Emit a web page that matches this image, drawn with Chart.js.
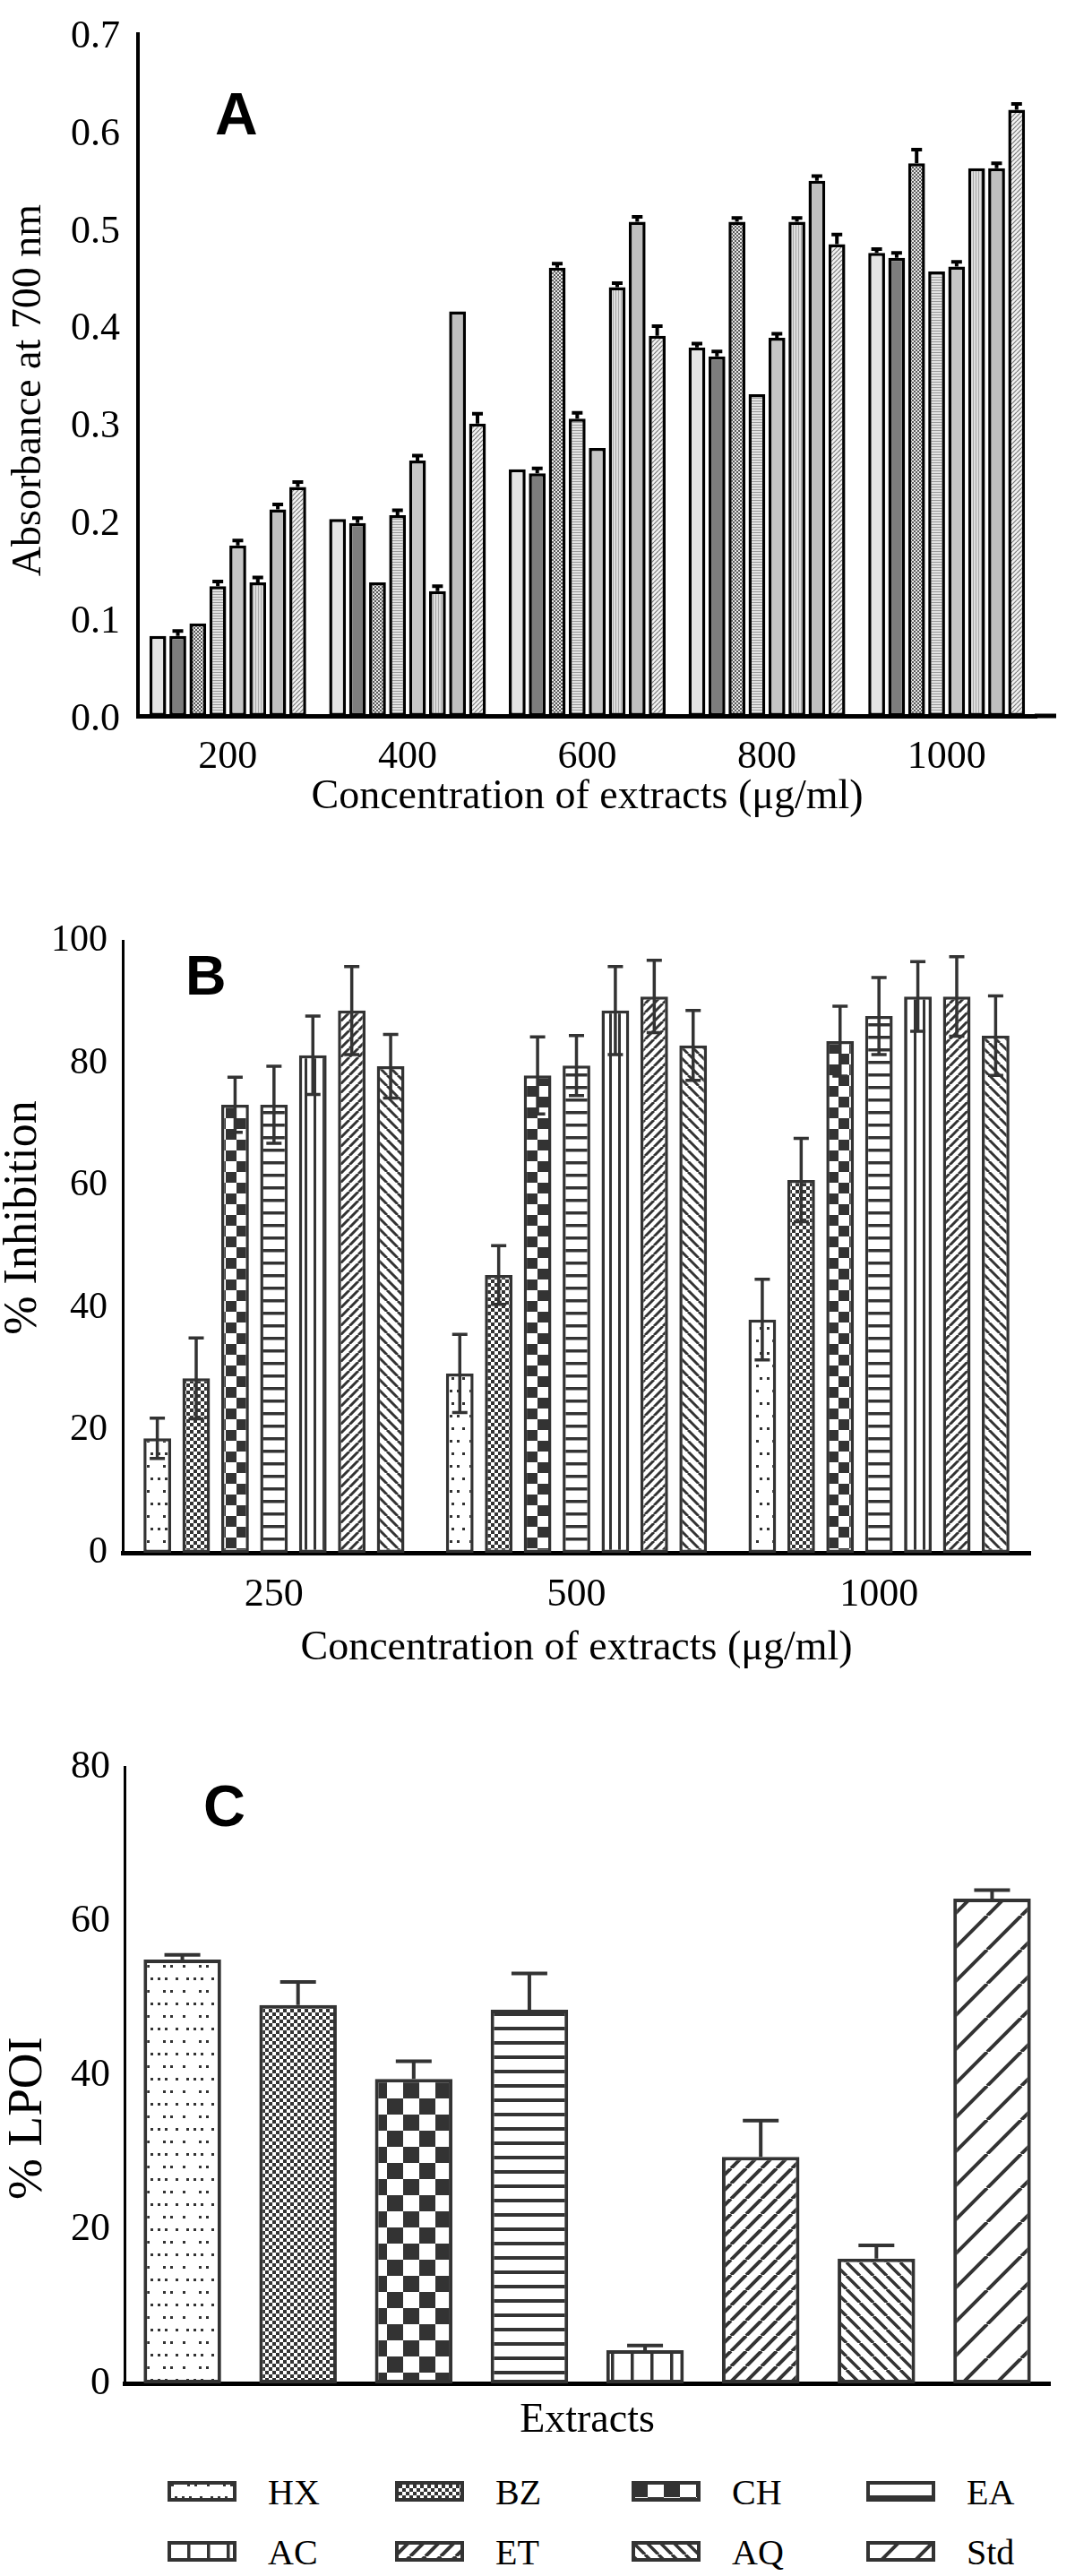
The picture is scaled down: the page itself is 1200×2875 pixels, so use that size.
<!DOCTYPE html>
<html>
<head>
<meta charset="utf-8">
<script src="https://cdn.jsdelivr.net/npm/chart.js@4.4.0/dist/chart.umd.min.js"></script>
<style>
  body { margin: 0; background: #fff; }
  #page { position: relative; width: 1200px; height: 2875px; }
  #page canvas { position: absolute; left: 0; }
  .lg-box { position: absolute; }
  .lg-text { position: absolute; font-family: "Liberation Serif"; font-size: 40px; line-height: 40px; color: #000; }
</style>
</head>
<body>
<div id="page">
  <canvas id="chartA" width="1200" height="950" style="top:0px"></canvas>
  <canvas id="chartB" width="1200" height="940" style="top:960px"></canvas>
  <canvas id="chartC" width="1200" height="830" style="top:1910px"></canvas>
  <div id="legend"></div>
</div>
<script>
// ---------- data ----------
const extracts = ['HX', 'BZ', 'CH', 'EA', 'AC', 'ET', 'AQ', 'Std'];

// A - absorbance at 700 nm
const concA = ['200', '400', '600', '800', '1000'];
const ticksA = [0, 0.1, 0.2, 0.3, 0.4, 0.5, 0.6, 0.7];
const absHX  = [0.082, 0.202, 0.253, 0.378, 0.475];
const absBZ  = [0.082, 0.198, 0.249, 0.369, 0.470];
const absCH  = [0.095, 0.137, 0.460, 0.507, 0.567];
const absEA  = [0.133, 0.206, 0.305, 0.330, 0.456];
const absAC  = [0.175, 0.262, 0.275, 0.388, 0.461];
const absET  = [0.137, 0.128, 0.440, 0.507, 0.562];
const absAQ  = [0.212, 0.415, 0.507, 0.549, 0.562];
const absStd = [0.235, 0.300, 0.390, 0.484, 0.622];
const errAHX  = [0, 0, 0, 0.004, 0.004];
const errABZ  = [0.005, 0.005, 0.005, 0.005, 0.005];
const errACH  = [0, 0, 0.004, 0.004, 0.014];
const errAEA  = [0.005, 0.005, 0.006, 0, 0];
const errAAC  = [0.005, 0.005, 0, 0.004, 0.005];
const errAET  = [0.005, 0.005, 0.004, 0.004, 0];
const errAAQ  = [0.005, 0, 0.005, 0.005, 0.005];
const errAStd = [0.005, 0.010, 0.010, 0.010, 0.006];

// B - % inhibition
const concB = ['250', '500', '1000'];
const ticksB = [0, 20, 40, 60, 80, 100];
const inhHX = [18.7, 29.3, 38.1];
const inhBZ = [28.5, 45.4, 60.9];
const inhCH = [73.2, 78.0, 83.6];
const inhEA = [73.2, 79.6, 87.7];
const inhAC = [81.3, 88.6, 90.9];
const inhET = [88.6, 90.9, 90.9];
const inhAQ = [79.5, 82.9, 84.5];
const errBHX = [3.3, 6.4, 6.6];
const errBBZ = [6.6, 4.8, 6.8];
const errBCH = [4.5, 6.3, 5.7];
const errBEA = [6.3, 4.9, 6.3];
const errBAC = [6.4, 7.2, 5.7];
const errBET = [7.2, 5.9, 6.5];
const errBAQ = [5.2, 5.7, 6.5];

// C - % LPOI
const ticksC = [0, 20, 40, 60, 80];
const lpoi    = [55.0, 49.1, 39.5, 48.5, 4.3, 29.4, 16.2, 62.9];
const lpoiErr = [0.6, 3.0, 2.3, 4.7, 0.6, 4.7, 1.7, 1.1];

// ---------- fill patterns ----------
function tile(w, h, bg, draw) {
  const c = document.createElement('canvas');
  c.width = w; c.height = h;
  const g = c.getContext('2d');
  g.fillStyle = bg; g.fillRect(0, 0, w, h);
  draw(g, w, h);
  return g.createPattern(c, 'repeat');
}
function checker(cell, col, bg) {
  return tile(cell * 2, cell * 2, bg, g => {
    g.fillStyle = col;
    g.fillRect(0, 0, cell, cell);
    g.fillRect(cell, cell, cell, cell);
  });
}
function hlines(period, lw, col, bg) {
  return tile(4, period, bg, g => { g.fillStyle = col; g.fillRect(0, 0, 4, lw); });
}
function vlines(period, lw, col, bg) {
  return tile(period, 4, bg, g => { g.fillStyle = col; g.fillRect(0, 0, lw, 4); });
}
function diag(s, lw, col, bg, dir) {
  return tile(s, s, bg, g => {
    g.strokeStyle = col; g.lineWidth = lw;
    g.beginPath();
    for (let k = -s; k <= s; k += s) {
      if (dir > 0) { g.moveTo(k, s); g.lineTo(k + s, 0); }
      else { g.moveTo(k, 0); g.lineTo(k + s, s); }
    }
    g.stroke();
  });
}
function dots(col, bg) {
  return tile(40, 28, bg, g => {
    g.fillStyle = col;
    [[4, 3], [22, 3], [30, 3], [8, 17], [16, 17], [24, 17], [36, 17]].forEach(p => g.fillRect(p[0], p[1], 3, 3));
  });
}

const ink = '#333';
const fillA = [
  '#e4e4e4',
  '#7d7d7d',
  checker(2, '#5a5a5a', '#e8e8e8'),
  hlines(3, 1, '#9a9a9a', '#e2e2e2'),
  '#c6c6c6',
  vlines(3, 1, '#a8a8a8', '#dedede'),
  '#bfbfbf',
  diag(5, 1.2, '#777', '#f2f2f2', 1)
];
const fillB = [
  dots(ink, '#fff'),
  checker(4, ink, '#fff'),
  checker(12, ink, '#fff'),
  hlines(14, 3.5, ink, '#fff'),
  vlines(10, 3, ink, '#fff'),
  diag(10, 3, ink, '#fff', 1),
  diag(12, 3, ink, '#fff', -1)
];
const fillC = [
  dots(ink, '#fff'),
  checker(4, ink, '#fff'),
  checker(18, ink, '#fff'),
  hlines(16, 4, ink, '#fff'),
  vlines(22, 3.5, ink, '#fff'),
  diag(17, 4, ink, '#fff', 1),
  diag(15, 3.5, ink, '#fff', -1),
  diag(38, 4, ink, '#fff', 1)
];

// ---------- plugins ----------
const errorBars = {
  id: 'errorBars',
  afterDatasetsDraw(chart, args, o) {
    const { ctx } = chart;
    const y = chart.scales.y;
    ctx.save();
    ctx.strokeStyle = o.color;
    ctx.lineWidth = o.width;
    chart.data.datasets.forEach((ds, i) => {
      if (!ds.errors) return;
      chart.getDatasetMeta(i).data.forEach((bar, j) => {
        const e = ds.errors[j];
        if (!e) return;
        const v = ds.data[j];
        const top = y.getPixelForValue(v + e);
        const bot = y.getPixelForValue(o.both ? v - e : v);
        const h = o.cap / 2;
        ctx.beginPath();
        ctx.moveTo(bar.x, bot); ctx.lineTo(bar.x, top);
        ctx.moveTo(bar.x - h, top); ctx.lineTo(bar.x + h, top);
        if (o.both) { ctx.moveTo(bar.x - h, bot); ctx.lineTo(bar.x + h, bot); }
        ctx.stroke();
      });
    });
    ctx.restore();
  }
};

const panelTag = {
  id: 'panelTag',
  afterDraw(chart, args, o) {
    const { ctx, chartArea: a } = chart;
    ctx.save();
    ctx.fillStyle = '#000';
    ctx.font = 'bold ' + o.size + 'px "Liberation Sans"';
    ctx.textBaseline = 'alphabetic';
    ctx.fillText(o.text, a.left + o.dx, a.top + o.dy);
    if (o.extend) {
      ctx.strokeStyle = '#000';
      ctx.lineWidth = o.lineWidth;
      ctx.beginPath();
      ctx.moveTo(a.right - 2, a.bottom);
      ctx.lineTo(a.right + o.extend, a.bottom);
      ctx.stroke();
    }
    ctx.restore();
  }
};

Chart.defaults.font.family = 'Liberation Serif';
Chart.defaults.color = '#000';

function serif(size, lineHeight) {
  return { family: 'Liberation Serif', size: size, lineHeight: lineHeight || 1.2 };
}

// ---------- chart A ----------
new Chart(document.getElementById('chartA'), {
  type: 'bar',
  data: {
    labels: concA,
    datasets: [absHX, absBZ, absCH, absEA, absAC, absET, absAQ, absStd].map((d, i) => ({
      label: extracts[i],
      data: d,
      errors: [errAHX, errABZ, errACH, errAEA, errAAC, errAET, errAAQ, errAStd][i],
      backgroundColor: fillA[i],
      borderColor: '#000',
      borderWidth: 3.5,
      borderSkipped: false
    }))
  },
  options: {
    responsive: false,
    animation: false,
    devicePixelRatio: 1,
    layout: { padding: { top: 19, right: 43, left: 0, bottom: 0 } },
    datasets: { bar: { categoryPercentage: 0.89, barPercentage: 0.84 } },
    plugins: {
      legend: { display: false },
      tooltip: { enabled: false },
      errorBars: { color: '#000', width: 4, cap: 12, both: false },
      panelTag: { text: 'A', size: 66, dx: 86, dy: 112, extend: 22, lineWidth: 5 }
    },
    scales: {
      x: {
        grid: { display: false, drawTicks: false },
        border: { color: '#000', width: 5 },
        ticks: { font: serif(44), color: '#000', padding: 20 },
        title: { display: true, text: 'Concentration of extracts (μg/ml)', font: serif(46), color: '#000', padding: { top: 0, bottom: 32 } },
        afterFit: s => { s.height = 151; }
      },
      y: {
        min: 0, max: 0.7,
        afterBuildTicks: s => { s.ticks = ticksA.map(v => ({ value: v })); },
        ticks: { font: serif(44, 0.8), color: '#000', padding: 20, labelOffset: 4, callback: v => v.toFixed(1) },
        grid: { display: false, drawTicks: false },
        border: { color: '#000', width: 4 },
        title: { display: true, text: 'Absorbance at 700 nm   ', font: serif(46, 1), color: '#000', padding: { top: 10, bottom: 0 } },
        afterFit: s => { s.width = 154; }
      }
    }
  },
  plugins: [errorBars, panelTag]
});

// ---------- chart B ----------
new Chart(document.getElementById('chartB'), {
  type: 'bar',
  data: {
    labels: concB,
    datasets: [inhHX, inhBZ, inhCH, inhEA, inhAC, inhET, inhAQ].map((d, i) => ({
      label: extracts[i],
      data: d,
      errors: [errBHX, errBBZ, errBCH, errBEA, errBAC, errBET, errBAQ][i],
      backgroundColor: fillB[i],
      borderColor: ink,
      borderWidth: 3.5,
      borderSkipped: false
    }))
  },
  options: {
    responsive: false,
    animation: false,
    devicePixelRatio: 1,
    layout: { padding: { top: 90, right: 50, left: 0, bottom: 0 } },
    datasets: { bar: { categoryPercentage: 0.9, barPercentage: 0.71 } },
    plugins: {
      legend: { display: false },
      tooltip: { enabled: false },
      errorBars: { color: ink, width: 3.5, cap: 17, both: true },
      panelTag: { text: 'B', size: 63, dx: 70, dy: 60 }
    },
    scales: {
      x: {
        grid: { display: false, drawTicks: false },
        border: { color: '#000', width: 5 },
        ticks: { font: serif(44), color: '#000', padding: 21 },
        title: { display: true, text: 'Concentration of extracts (μg/ml)', font: serif(46), color: '#000', padding: { top: 0, bottom: 32 } },
        afterFit: s => { s.height = 167; }
      },
      y: {
        min: 0, max: 100,
        afterBuildTicks: s => { s.ticks = ticksB.map(v => ({ value: v })); },
        ticks: { font: serif(42, 0.8), color: '#000', padding: 17 },
        grid: { display: false, drawTicks: false },
        border: { color: '#000', width: 3 },
        title: { display: true, text: '     % Inhibition', font: serif(52, 1), color: '#000', padding: { top: 0, bottom: 0 } },
        afterFit: s => { s.width = 137; }
      }
    }
  },
  plugins: [errorBars, panelTag]
});

// ---------- chart C ----------
new Chart(document.getElementById('chartC'), {
  type: 'bar',
  data: {
    labels: extracts,
    datasets: [{
      label: '% LPOI',
      data: lpoi,
      errors: lpoiErr,
      backgroundColor: fillC,
      borderColor: ink,
      borderWidth: 4,
      borderSkipped: false
    }]
  },
  options: {
    responsive: false,
    animation: false,
    devicePixelRatio: 1,
    layout: { padding: { top: 62, right: 28, left: 0, bottom: 0 } },
    datasets: { bar: { categoryPercentage: 1, barPercentage: 0.67 } },
    plugins: {
      legend: { display: false },
      tooltip: { enabled: false },
      errorBars: { color: ink, width: 4, cap: 40, both: false },
      panelTag: { text: 'C', size: 65, dx: 88, dy: 66 }
    },
    scales: {
      x: {
        grid: { display: false, drawTicks: false },
        border: { color: '#000', width: 5 },
        ticks: { display: false },
        title: { display: true, text: 'Extracts', font: serif(46), color: '#000', padding: { top: 0, bottom: 10 } },
        afterFit: s => { s.height = 80; }
      },
      y: {
        min: 0, max: 80,
        afterBuildTicks: s => { s.ticks = ticksC.map(v => ({ value: v })); },
        ticks: { font: serif(44, 0.8), color: '#000', padding: 16 },
        grid: { display: false, drawTicks: false },
        border: { color: '#000', width: 3 },
        title: { display: true, text: '% LPOI       ', font: serif(55, 1), color: '#000', padding: { top: 4, bottom: 0 } },
        afterFit: s => { s.width = 139; }
      }
    }
  },
  plugins: [errorBars, panelTag]
});

// ---------- legend (HTML, shared by B and C) ----------
const legendCols = [187, 441, 705, 967];
const legendRows = [2780, 2847];
const legend = document.getElementById('legend');
extracts.forEach((name, i) => {
  const left = legendCols[i % 4];
  const cy = legendRows[Math.floor(i / 4)];
  const sw = document.createElement('canvas');
  sw.width = 77; sw.height = 23;
  sw.className = 'lg-box';
  sw.style.left = left + 'px';
  sw.style.top = (cy - 11) + 'px';
  const g = sw.getContext('2d');
  g.fillStyle = fillC[i];
  g.fillRect(0, 0, 77, 23);
  g.strokeStyle = ink;
  g.lineWidth = 4;
  g.strokeRect(2, 2, 73, 19);
  legend.appendChild(sw);
  const t = document.createElement('div');
  t.className = 'lg-text';
  t.textContent = name;
  t.style.left = (left + 112) + 'px';
  t.style.top = (cy - 18) + 'px';
  legend.appendChild(t);
});
</script>
</body>
</html>
